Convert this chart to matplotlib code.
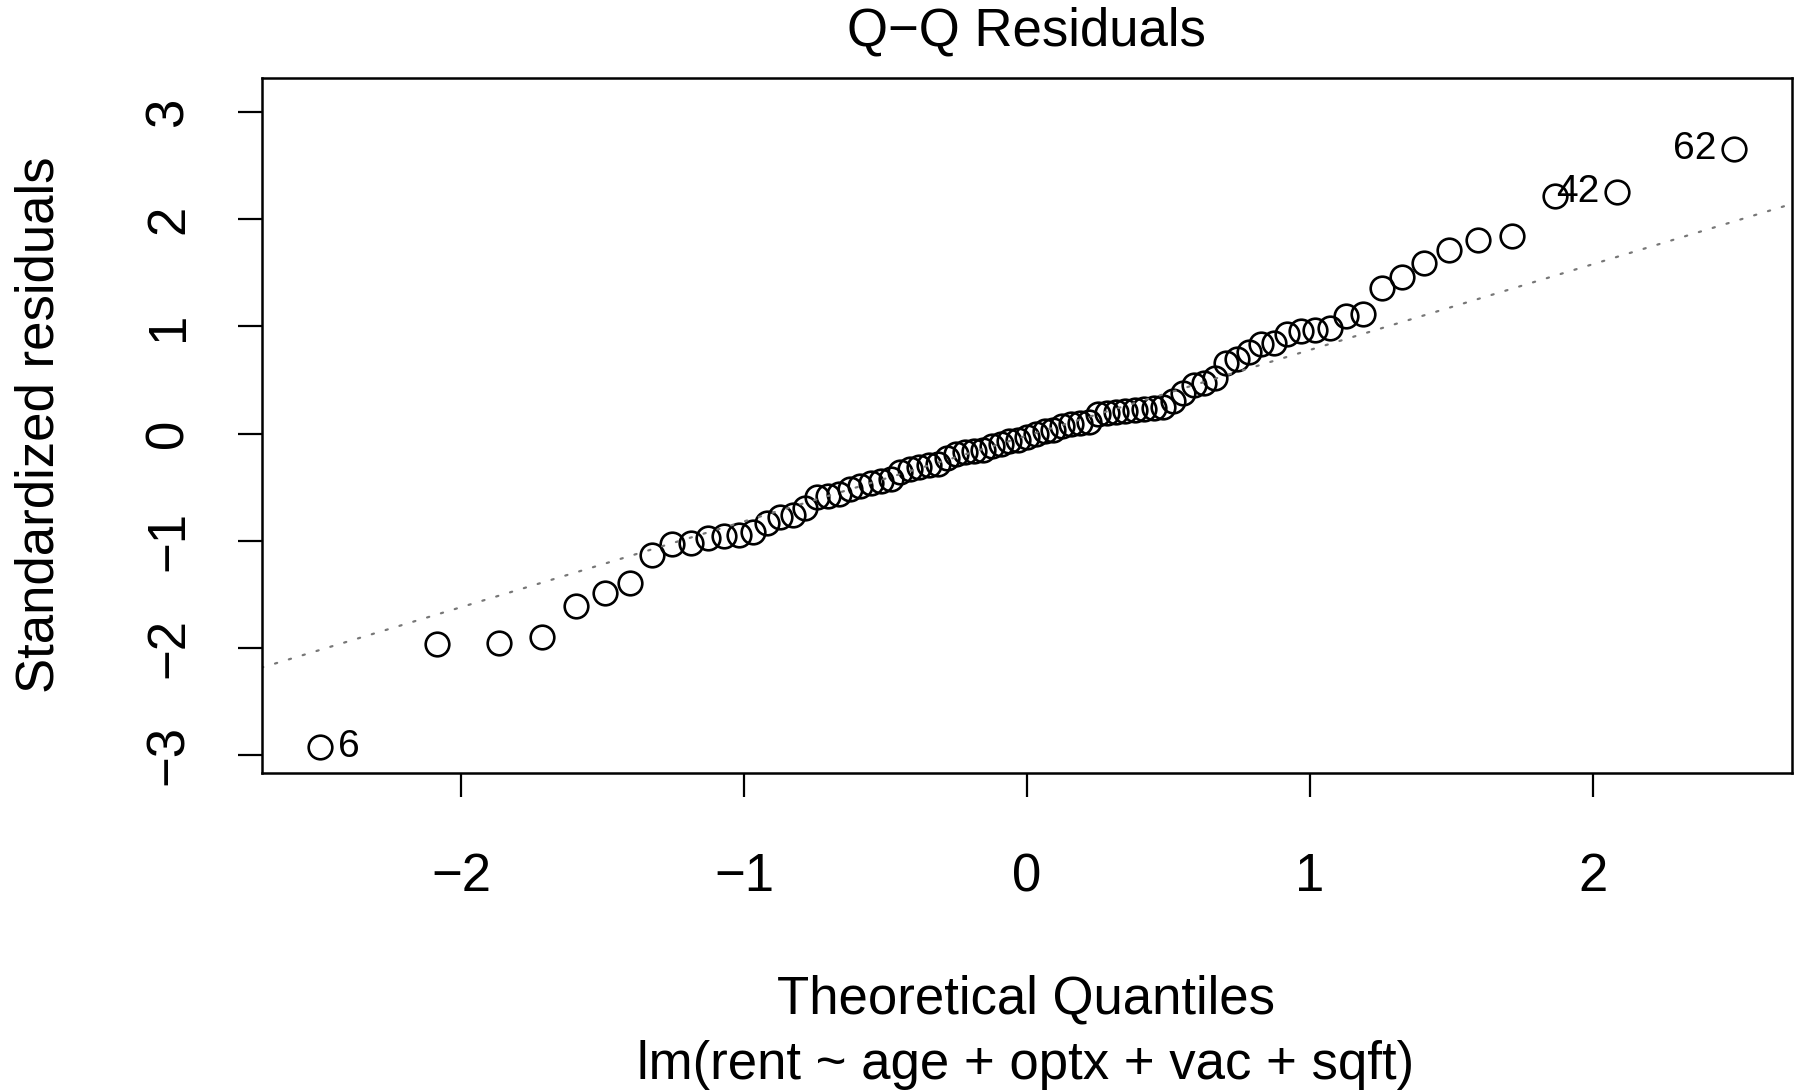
import numpy as np
import matplotlib
matplotlib.use("Agg")
import matplotlib.pyplot as plt

# theoretical normal quantiles for n = 81 (lower half, mirrored for upper)
q_lower = [-2.500, -2.086, -1.868, -1.714, -1.593, -1.492, -1.404, -1.325,
           -1.254, -1.189, -1.128, -1.071, -1.018, -0.967, -0.919, -0.873,
           -0.828, -0.785, -0.744, -0.704, -0.665, -0.627, -0.589, -0.553,
           -0.517, -0.482, -0.448, -0.414, -0.381, -0.348, -0.315, -0.282,
           -0.250, -0.218, -0.187, -0.155, -0.124, -0.093, -0.062, -0.031]
theo = q_lower + [0.0] + [-v for v in reversed(q_lower)]

# sorted standardized residuals
resid = [-2.93, -1.97, -1.96, -1.90, -1.61, -1.49, -1.40, -1.13,
         -1.03, -1.02, -0.98, -0.96, -0.95, -0.92, -0.84, -0.78,
         -0.76, -0.70, -0.59, -0.58, -0.56, -0.52, -0.49, -0.46,
         -0.44, -0.42, -0.36, -0.33, -0.31, -0.29, -0.28, -0.23,
         -0.19, -0.17, -0.16, -0.15, -0.12, -0.10, -0.07, -0.06,
         -0.03,
         0.00, 0.02, 0.03, 0.07, 0.09, 0.10, 0.11, 0.18,
         0.19, 0.20, 0.21, 0.22, 0.23, 0.24, 0.25, 0.30,
         0.38, 0.45, 0.47, 0.52, 0.66, 0.70, 0.76, 0.84,
         0.85, 0.93, 0.96, 0.97, 0.99, 1.10, 1.12, 1.36,
         1.46, 1.59, 1.71, 1.81, 1.84, 2.22, 2.26, 2.66]

# labelled extreme observations: (index in sorted order, case number)
labelled = [(0, "6"), (79, "42"), (80, "62")]

xticks = [-2, -1, 0, 1, 2]
yticks = [-3, -2, -1, 0, 1, 2, 3]

W, H = 1795, 1092
fig = plt.figure(figsize=(W / 100, H / 100), dpi=100)
plt.rcParams['font.family'] = ['Liberation Sans', 'DejaVu Sans']

ax = fig.add_axes([262 / W, 1 - 773 / H, (1792 - 262) / W, (773 - 78) / H])

theo = np.array(theo)
resid = np.array(resid)

ax.plot(theo, resid, linestyle='none', marker='o', markersize=17,
        markerfacecolor='none', markeredgecolor='black', markeredgewidth=1.9)

# reference line through the quartiles (like qqline)
y25, y75 = np.percentile(resid, [25, 75])
slope = (y75 - y25) / (2 * 0.6745)
inter = y25 + slope * 0.6745
xl = np.array([-3.0, 3.0])
ax.plot(xl, inter + slope * xl, color='#777777', linewidth=1.6,
        linestyle=(0, (1, 5.5)), dash_capstyle='round')

for i, lab in labelled:
    if theo[i] < 0:
        ax.annotate(lab, (theo[i], resid[i]), xytext=(13, 0), textcoords='offset points',
                    ha='left', va='center', fontsize=28)
    else:
        ax.annotate(lab, (theo[i], resid[i]), xytext=(-13, 0), textcoords='offset points',
                    ha='right', va='center', fontsize=28)

ax.set_xlim(-2.704, 2.704)
ax.set_ylim(-3.17, 3.32)
ax.set_xticks(xticks)
ax.set_yticks(yticks)
ax.set_xticklabels(['\u22122', '\u22121', '0', '1', '2'])
ax.set_yticklabels(['\u22123', '\u22122', '\u22121', '0', '1', '2', '3'], rotation=90, va='center')
ax.tick_params(labelsize=38, length=17, width=1.6, direction='out')
ax.tick_params(axis='x', pad=40)
ax.tick_params(axis='y', pad=32)
for s in ax.spines.values():
    s.set_linewidth(1.8)

fig.text(1026 / W, 1 - 32 / H, 'Q\u2212Q Residuals', ha='center', va='center', fontsize=38)
fig.text(1026 / W, 1 - 999 / H, 'Theoretical Quantiles', ha='center', va='center', fontsize=38)
fig.text(1026 / W, 1 - 1065 / H, 'lm(rent ~ age + optx + vac + sqft)', ha='center', va='center', fontsize=38)
fig.text(40 / W, 1 - 425 / H, 'Standardized residuals', ha='center', va='center',
         rotation=90, fontsize=38)

fig.savefig('out.png', dpi=100)
